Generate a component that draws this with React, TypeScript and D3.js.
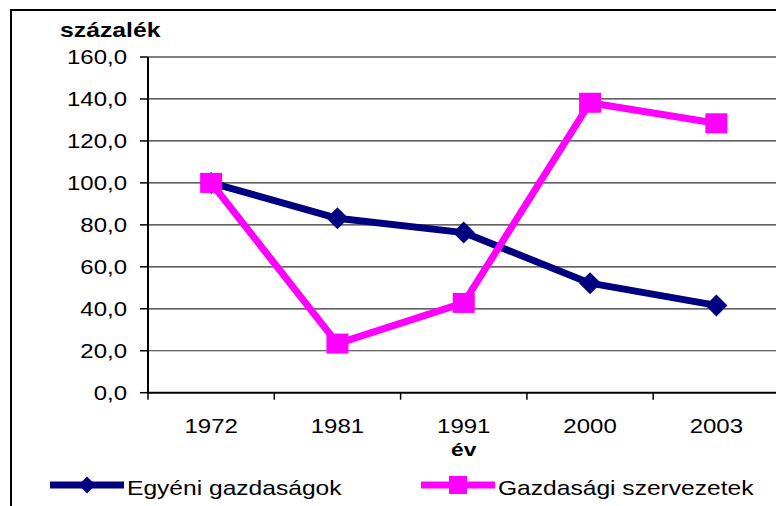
import React from "react";
import * as d3 from "d3";

const years = ["1972", "1981", "1991", "2000", "2003"];
const egyeni = [100, 83.1, 76.3, 52.2, 41.6];
const gazdasagi = [100, 23.4, 42.8, 138.2, 128.4];
const yTicks = [0, 20, 40, 60, 80, 100, 120, 140, 160];
const seriesNames = ["Egyéni gazdaságok", "Gazdasági szervezetek"];
const yTitle = "százalék";
const xTitle = "év";

const W = 776;
const H = 506;
const FONT = "Arial, 'Liberation Sans', sans-serif";

type TProps = {
  x: number;
  y: number;
  size: number;
  sx?: number;
  anchor?: "start" | "middle" | "end";
  bold?: boolean;
  dy?: string;
  children: React.ReactNode;
};

function T({ x, y, size, sx = 1.2, anchor = "start", bold = false, dy, children }: TProps) {
  return (
    <text
      transform={`translate(${x},${y}) scale(${sx},1)`}
      textAnchor={anchor}
      fontSize={size}
      fontWeight={bold ? "bold" : "normal"}
      dy={dy}
      fill="#000"
    >
      {children}
    </text>
  );
}

export default function App() {
  const left = 148;
  const right = 779.5;
  const top = 57;
  const bottom = 392.7;
  const x = d3.scaleBand<string>().domain(years).range([left, right]).padding(0);
  const y = d3.scaleLinear().domain([0, 160]).range([bottom, top]);
  const cx = (d: string) => (x(d) as number) + x.bandwidth() / 2;
  const line = d3
    .line<number>()
    .x((_, i) => cx(years[i]))
    .y((v) => y(v));
  const fmt = (v: number) => d3.format(".1f")(v).replace(".", ",");
  const diamond = (px: number, py: number, r: number) =>
    `M${px},${py - r}L${px + r},${py}L${px},${py + r}L${px - r},${py}Z`;

  return (
    <svg
      width={W}
      height={H}
      style={{ position: "absolute", left: 0, top: 0, background: "#fff" }}
      fontFamily={FONT}
    >
      <rect x={11} y={10} width={W} height={H} fill="#fff" stroke="#000" strokeWidth={2} />
      {/* gridlines */}
      {yTicks.filter((t) => t > 0 && t < 160).map((t) => (
        <line key={t} x1={left} x2={right} y1={y(t)} y2={y(t)} stroke="#333" strokeWidth={1.2} />
      ))}
      <line x1={left} x2={right} y1={y(160)} y2={y(160)} stroke="#808080" strokeWidth={2} />
      {/* y axis */}
      <line x1={left} x2={left} y1={top} y2={bottom + 1} stroke="#000" strokeWidth={2} />
      {yTicks.map((t) => (
        <g key={t}>
          <line x1={left - 8} x2={left} y1={y(t)} y2={y(t)} stroke="#000" strokeWidth={1.5} />
          <T x={127} y={y(t)} dy="0.36em" anchor="end" size={19.5} sx={1.23}>
            {fmt(t)}
          </T>
        </g>
      ))}
      {/* x axis */}
      <line x1={left} x2={right} y1={bottom} y2={bottom} stroke="#000" strokeWidth={2} />
      {years.map((yr) => (
        <line
          key={"t" + yr}
          x1={x(yr) as number}
          x2={x(yr) as number}
          y1={bottom}
          y2={bottom + 7}
          stroke="#000"
          strokeWidth={1.5}
        />
      ))}
      {years.map((yr) => (
        <T key={yr} x={cx(yr)} y={433} anchor="middle" size={20} sx={1.2}>
          {yr}
        </T>
      ))}
      <T x={(left + right) / 2} y={456} anchor="middle" size={19} sx={1.2} bold>
        {xTitle}
      </T>
      <T x={60} y={37} size={19.5} sx={1.27} bold>
        {yTitle}
      </T>
      {/* series 1 */}
      <path d={line(egyeni) as string} fill="none" stroke="#000080" strokeWidth={7} strokeLinejoin="round" />
      {egyeni.map((v, i) => (
        <path key={"d" + i} d={diamond(cx(years[i]), y(v), 11)} fill="#000080" />
      ))}
      {/* series 2 */}
      <path d={line(gazdasagi) as string} fill="none" stroke="#FF00FF" strokeWidth={7} strokeLinejoin="round" />
      {gazdasagi.map((v, i) => (
        <rect key={"s" + i} x={cx(years[i]) - 11} y={y(v) - 10} width={22} height={20} fill="#FF00FF" />
      ))}
      {/* legend */}
      <line x1={50} x2={124} y1={485} y2={485} stroke="#000080" strokeWidth={7} />
      <path d={diamond(87, 485, 8.5)} fill="#000080" />
      <T x={127} y={495} size={20.5} sx={1.2}>
        {seriesNames[0]}
      </T>
      <line x1={421} x2={495} y1={485} y2={485} stroke="#FF00FF" strokeWidth={7} />
      <rect x={449} y={476} width={18} height={18} fill="#FF00FF" />
      <T x={498} y={495} size={20.5} sx={1.2}>
        {seriesNames[1]}
      </T>
    </svg>
  );
}
